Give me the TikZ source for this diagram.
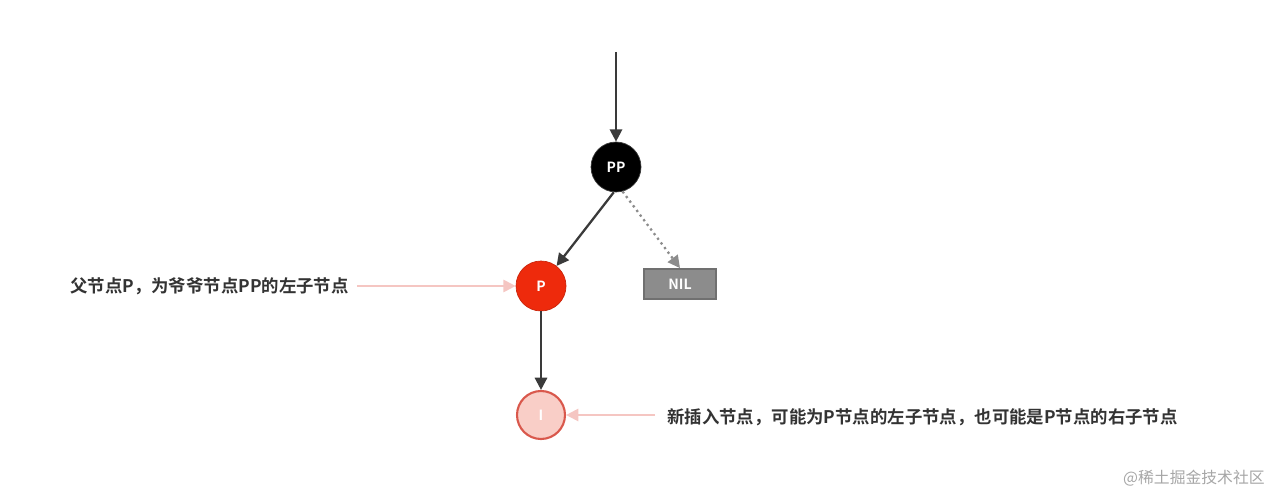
\documentclass[tikz,border=0pt]{standalone}
\usepackage{fontspec}
\setmainfont{Noto Sans CJK SC}
\newfontfamily\cjkb{Noto Sans CJK SC Bold}
\usetikzlibrary{arrows.meta}
\definecolor{darkline}{HTML}{3A3A3A}
\definecolor{redn}{HTML}{EE2A0C}
\definecolor{pinkf}{HTML}{F9CEC7}
\definecolor{pinkb}{HTML}{D9584C}
\definecolor{pinka}{HTML}{F5C6C2}
\definecolor{nilf}{HTML}{8C8C8C}
\definecolor{txt}{HTML}{333333}
\tikzset{
  treenode/.style={circle,minimum size=1cm,inner sep=0pt,font=\cjkb\fontsize{8}{9}\selectfont,text=white},
  edge/.style={draw=darkline,line width=1.3pt,-{Triangle[length=7pt,width=7pt]}},
  note/.style={draw=pinka,line width=1.2pt,-{Triangle[length=7pt,width=7pt]}},
  label/.style={font=\cjkb\fontsize{9.9}{11}\selectfont,text=txt,inner sep=0pt}
}
\begin{document}
\begin{tikzpicture}[x=0.02cm,y=-0.02cm]
\useasboundingbox (0,0) rectangle (1270,496);
\coordinate (top) at (616,52);
\node[treenode,fill=black,draw=darkline] (PP) at (616,167) {PP};
\node[treenode,fill=redn,draw=redn!85!black] (P) at (541,286) {P};
\node[treenode,fill=pinkf,draw=pinkb,line width=1.2pt,minimum size=0.96cm] (I) at (541,415) {I};
\node[draw=nilf!80!black,fill=nilf,minimum width=1.44cm,minimum height=0.6cm,inner sep=0pt,font=\cjkb\fontsize{8}{9}\selectfont,text=white,line width=1pt] (NIL) at (680,284) {NIL};
\draw[edge] (top) -- (PP);
\draw[edge] (PP.-95) -- (P);
\draw[edge] (P) -- (I);
\draw[draw=nilf,line width=1.3pt,dotted,-{Triangle[length=7pt,width=7pt]}] (PP.-75) -- (NIL.north);
\node[label,anchor=west] (L) at (70,286) {父节点P，为爷爷节点PP的左子节点};
\node[label,anchor=west] (R) at (667,417) {新插入节点，可能为P节点的左子节点，也可能是P节点的右子节点};
\coordinate (la) at (357,286);
\coordinate (ra) at (655,415);
\draw[note] (la) -- (P);
\draw[note] (ra) -- (I);
\node[font=\fontsize{9}{11}\selectfont,text=black!35,anchor=east,inner sep=0pt] (wm) at (1265,478) {@稀土掘金技术社区};
\end{tikzpicture}
\end{document}
